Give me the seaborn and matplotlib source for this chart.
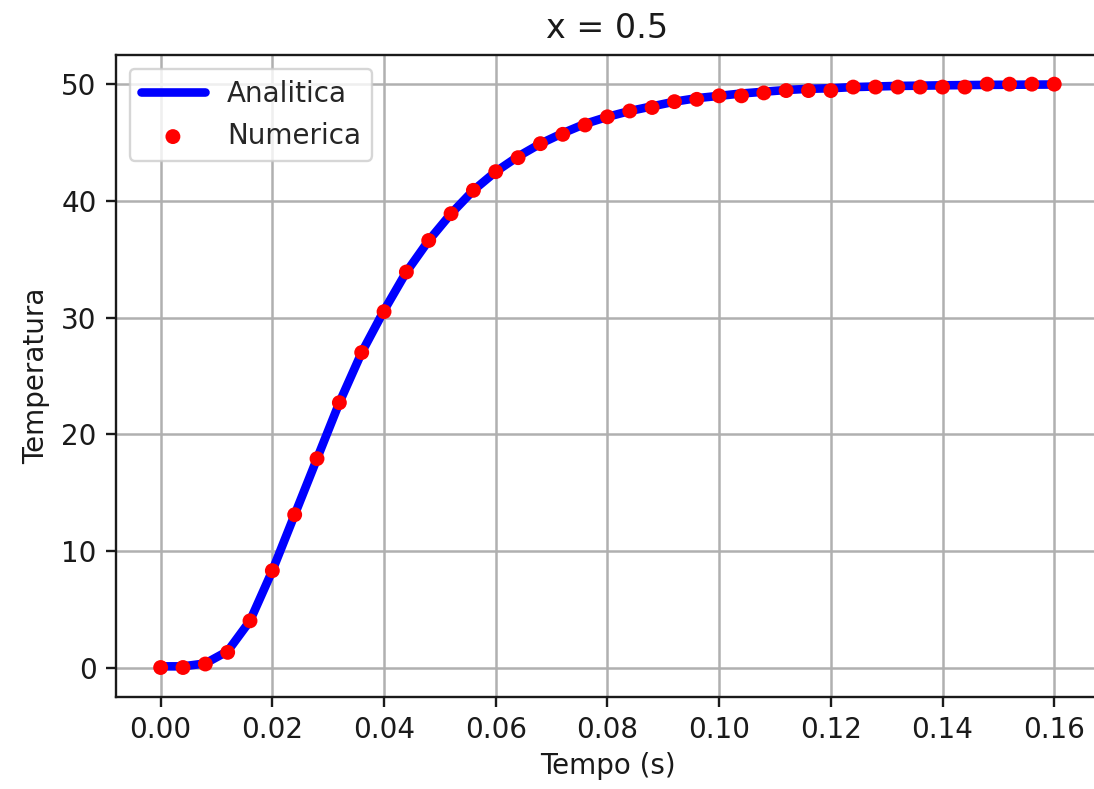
import matplotlib
matplotlib.use("Agg")
import matplotlib.pyplot as plt
import seaborn as sns
import pandas as pd

tempo = [0.000, 0.004, 0.008, 0.012, 0.016, 0.020, 0.024, 0.028, 0.032, 0.036,
         0.040, 0.044, 0.048, 0.052, 0.056, 0.060, 0.064, 0.068, 0.072, 0.076,
         0.080, 0.084, 0.088, 0.092, 0.096, 0.100, 0.104, 0.108, 0.112, 0.116,
         0.120, 0.124, 0.128, 0.132, 0.136, 0.140, 0.144, 0.148, 0.152, 0.156,
         0.160]

analitica = [0.1, 0.1, 0.35, 1.4, 4.0, 8.3, 13.1, 17.9, 22.7, 27.0,
             30.6, 33.9, 36.6, 38.9, 40.9, 42.5, 43.8, 44.9, 45.8, 46.6,
             47.2, 47.7, 48.1, 48.5, 48.8, 49.0, 49.2, 49.35, 49.5, 49.6,
             49.65, 49.75, 49.8, 49.85, 49.87, 49.9, 49.92, 49.94, 49.95, 49.96,
             49.97]

numerica = [0.0, 0.0, 0.3, 1.3, 4.0, 8.3, 13.1, 17.9, 22.7, 27.0,
            30.5, 33.9, 36.6, 38.9, 40.9, 42.5, 43.7, 44.9, 45.7, 46.5,
            47.2, 47.7, 48.0, 48.5, 48.7, 49.0, 49.0, 49.25, 49.45, 49.45,
            49.45, 49.75, 49.75, 49.75, 49.75, 49.75, 49.75, 50.0, 50.0, 50.0,
            50.0]

xticks = [0.00, 0.02, 0.04, 0.06, 0.08, 0.10, 0.12, 0.14, 0.16]
xticklabels = ["0.00", "0.02", "0.04", "0.06", "0.08", "0.10", "0.12", "0.14", "0.16"]
yticks = [0, 10, 20, 30, 40, 50]

df = pd.DataFrame({"t": tempo, "a": analitica, "n": numerica})

sns.set_style("ticks")
plt.rcParams["font.family"] = ["DejaVu Sans"]
plt.rcParams["font.size"] = 20

fig = plt.figure(figsize=(10.94, 7.89), dpi=100)
# axes extends slightly past the right edge (right spine cropped as in reference)
ax = fig.add_axes([0.106, 0.117, 0.8985, 0.8133])

sns.lineplot(data=df, x="t", y="a", ax=ax, color="blue", linewidth=6.2,
             label="Analitica", zorder=2)
sns.scatterplot(data=df, x="t", y="n", ax=ax, color="red", s=115,
                edgecolor="none", label="Numerica", zorder=3)

ax.set_xticks(xticks)
ax.set_xticklabels(xticklabels)
ax.set_yticks(yticks)
ax.set_xlim(-0.008, 0.168)
ax.set_ylim(-2.5, 52.5)
ax.grid(True, color="#b0b0b0", linewidth=1.8)
ax.set_axisbelow(True)
for s in ax.spines.values():
    s.set_visible(True)
    s.set_linewidth(1.7)
    s.set_color("#1a1a1a")
ax.tick_params(labelsize=20, width=1.7, length=7, colors="#1a1a1a", labelcolor="#1a1a1a",
               pad=7)
ax.set_xlabel("Tempo (s)", fontsize=20, color="#1a1a1a", labelpad=6)
ax.set_ylabel("Temperatura", fontsize=20, color="#1a1a1a", labelpad=8)
ax.set_title("x = 0.5", fontsize=24, color="#1a1a1a", pad=12)

leg = ax.legend(loc="upper left", fontsize=20, framealpha=0.8, edgecolor="#cccccc",
                fancybox=True, handlelength=2.3)
leg.get_frame().set_linewidth(1.7)

fig.savefig("out.png", dpi=100)
